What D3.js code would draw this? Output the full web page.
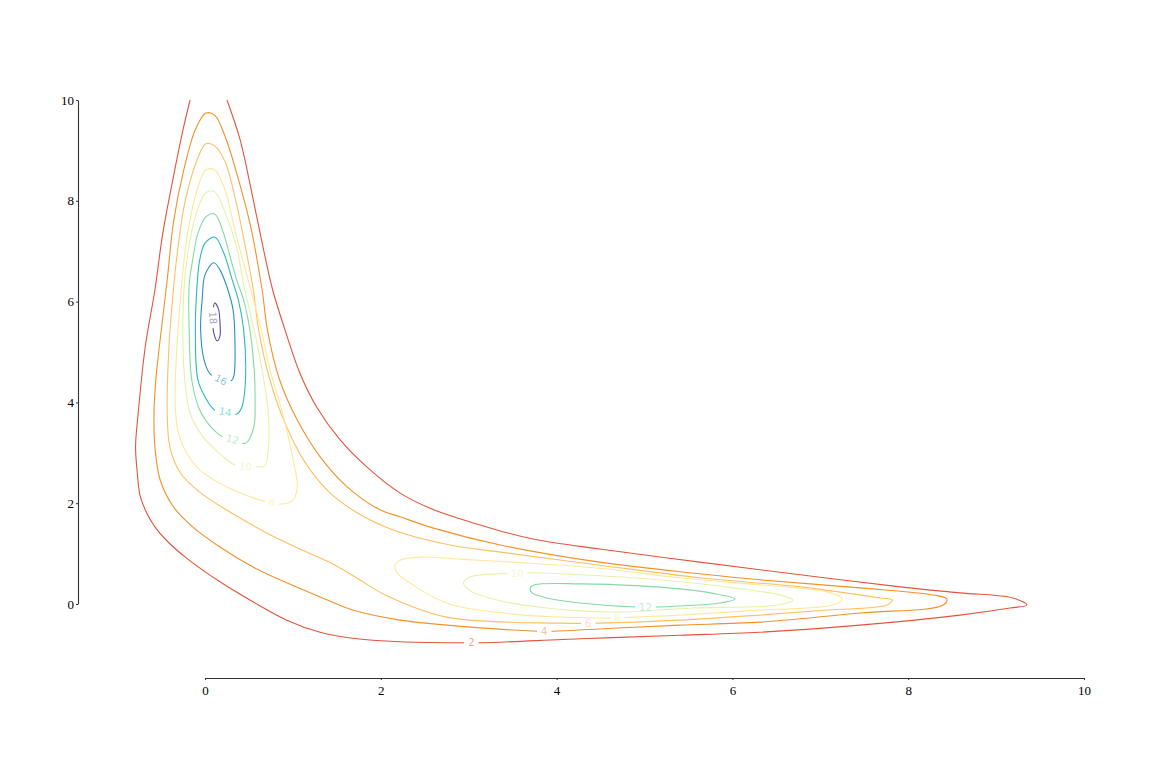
<!DOCTYPE html>
<html>
<head>
<meta charset="utf-8">
<script src="https://cdn.jsdelivr.net/npm/d3@7.9.0/dist/d3.min.js"></script>
<style>
  body { margin: 0; background: #fff; }
  svg { display: block; }
</style>
</head>
<body>
<svg id="chart" width="1163" height="776"></svg>
<script>
// contour levels and their colours
var levels = [2, 4, 6, 8, 10, 12, 14, 16, 18]
var levelColors = ['#e2553a', '#f39129', '#fdc062', '#fde99c', '#e3f4a9', '#83dba2', '#27bdb6', '#2b8fc2', '#5b4ea1']
var xTicks = [0, 2, 4, 6, 8, 10]
var yTicks = [0, 2, 4, 6, 8, 10]

// contour lines, [x, y] in data units
var contour2 = [[-0.17,10.0],[-0.25,9.41],[-0.36,8.47],[-0.48,7.36],[-0.57,6.23],[-0.68,5.10],[-0.76,3.79],[-0.79,3.12],[-0.77,2.60],[-0.74,2.16],[-0.67,1.83],[-0.57,1.53],[-0.42,1.23],[-0.21,0.91],[0.17,0.44],[0.55,0.04],[0.93,-0.32],[1.31,-0.56],[1.68,-0.68],[2.22,-0.75],[2.94,-0.77],[3.13,-0.77],[4.27,-0.69],[5.40,-0.62],[6.31,-0.56],[7.45,-0.42],[8.59,-0.22],[9.16,-0.08],[9.35,-0.02],[9.19,0.12],[8.59,0.22],[7.91,0.34],[6.77,0.58],[5.63,0.83],[4.49,1.09],[3.73,1.29],[3.36,1.45],[2.90,1.69],[2.56,1.90],[2.22,2.20],[1.84,2.72],[1.54,3.25],[1.27,3.91],[1.08,4.58],[0.91,5.44],[0.77,6.23],[0.66,7.08],[0.51,8.35],[0.40,9.21],[0.25,10.0]]
var contour4 = [[0.11,9.70],[0.01,9.74],[-0.11,9.41],[-0.25,8.55],[-0.36,7.56],[-0.43,6.43],[-0.52,5.10],[-0.56,4.44],[-0.58,3.79],[-0.57,3.12],[-0.51,2.46],[-0.36,1.93],[-0.14,1.53],[0.17,1.13],[0.55,0.73],[0.93,0.42],[1.31,0.14],[1.68,-0.12],[2.22,-0.32],[2.75,-0.42],[3.78,-0.54],[3.96,-0.54],[4.64,-0.48],[5.40,-0.42],[6.31,-0.36],[7.45,-0.18],[8.40,-0.02],[8.44,0.10],[8.28,0.18],[7.45,0.32],[6.31,0.48],[5.63,0.60],[4.49,0.83],[3.36,1.17],[2.59,1.51],[2.22,1.73],[1.99,1.87],[1.62,2.32],[1.31,2.92],[1.05,3.65],[0.85,4.44],[0.71,5.44],[0.65,6.23],[0.51,7.56],[0.36,8.55],[0.23,9.27]]
var contour6 = [[0.11,9.09],[0.01,9.13],[-0.09,8.81],[-0.23,7.96],[-0.32,6.89],[-0.36,6.23],[-0.41,5.10],[-0.43,3.79],[-0.40,3.12],[-0.28,2.60],[-0.06,2.22],[0.28,1.83],[0.68,1.43],[1.08,1.09],[1.46,0.79],[1.76,0.48],[2.05,0.18],[2.75,-0.26],[4.04,-0.38],[4.49,-0.38],[5.40,-0.32],[6.31,-0.22],[7.08,-0.12],[7.76,-0.02],[7.82,0.08],[7.68,0.12],[6.77,0.34],[5.63,0.52],[4.49,0.77],[3.36,1.03],[2.79,1.17],[2.14,1.47],[1.73,1.81],[1.39,2.26],[1.12,2.86],[0.91,3.59],[0.74,4.44],[0.61,5.44],[0.55,6.23],[0.46,7.08],[0.34,8.08],[0.23,8.77]]
var contour8a = [[0.11,8.61],[0.01,8.61],[-0.09,8.21],[-0.21,7.22],[-0.27,6.23],[-0.32,5.10],[-0.34,4.05],[-0.31,3.45],[-0.23,3.06],[-0.06,2.66],[0.25,2.32],[0.63,2.06],[0.85,1.98],[1.00,2.06],[1.05,2.32],[1.01,2.80],[0.93,3.45],[0.84,4.05],[0.74,4.64],[0.64,5.44],[0.49,6.43],[0.34,7.42],[0.23,8.21]]
var contour8b = [[2.16,0.77],[2.22,0.87],[2.45,0.93],[2.90,0.89],[3.50,0.83],[4.49,0.71],[5.40,0.52],[6.31,0.38],[7.08,0.24],[7.25,0.10],[7.14,-0.02],[6.31,-0.12],[5.40,-0.22],[4.87,-0.26],[4.64,-0.28],[3.50,-0.20],[2.75,0.02],[2.33,0.42],[2.18,0.63]]
var contour10a = [[0.11,8.18],[0.01,8.16],[-0.11,7.68],[-0.19,7.02],[-0.24,6.23],[-0.25,5.10],[-0.23,4.44],[-0.17,3.79],[-0.02,3.31],[0.21,2.92],[0.36,2.74],[0.59,2.72],[0.68,2.74],[0.72,3.06],[0.72,3.79],[0.67,4.44],[0.60,5.10],[0.56,5.44],[0.44,6.33],[0.36,7.08],[0.23,7.76]]
var contour10b = [[2.94,0.42],[3.02,0.54],[3.36,0.60],[3.73,0.62],[4.27,0.58],[4.87,0.52],[5.40,0.44],[6.01,0.32],[6.54,0.18],[6.69,0.08],[6.51,-0.02],[5.55,-0.08],[5.18,-0.12],[4.64,-0.16],[3.89,-0.08],[3.32,0.08],[3.02,0.26]]
var contour12a = [[0.11,7.74],[0.01,7.68],[-0.08,7.36],[-0.14,6.83],[-0.18,6.33],[-0.18,5.44],[-0.15,4.44],[-0.06,3.85],[0.08,3.49],[0.19,3.33],[0.46,3.19],[0.51,3.29],[0.56,3.55],[0.57,4.05],[0.56,4.64],[0.51,5.44],[0.44,6.03],[0.36,6.43],[0.28,6.93],[0.21,7.36]]
var contour12b = [[3.70,0.32],[3.75,0.38],[4.27,0.40],[4.95,0.36],[5.40,0.30],[5.75,0.22],[6.03,0.10],[5.86,0.02],[5.40,-0.04],[5.14,-0.06],[4.92,-0.06],[4.27,0.02],[3.89,0.12],[3.72,0.22]]
var contour14 = [[0.11,7.28],[0.00,7.16],[-0.06,6.83],[-0.09,6.33],[-0.11,5.44],[-0.08,4.44],[0.00,4.11],[0.11,3.85],[0.36,3.77],[0.42,3.91],[0.46,4.44],[0.44,5.44],[0.38,6.03],[0.31,6.43],[0.21,6.98]]
var contour16 = [[0.10,6.77],[0.00,6.53],[-0.03,6.09],[-0.05,5.44],[-0.01,4.84],[0.06,4.56],[0.19,4.44],[0.30,4.43],[0.33,4.54],[0.34,5.24],[0.32,5.83],[0.25,6.29],[0.17,6.63]]
var contour18 = [[0.11,5.97],[0.09,5.73],[0.10,5.38],[0.14,5.22],[0.17,5.32],[0.17,5.60],[0.15,5.87]]

// inline labels: [level, x, y]
var labelSpots = [[2,3.03,-0.77],[4,3.86,-0.54],[6,4.36,-0.38],[8,0.76,2.00],[8,4.69,-0.27],[10,0.46,2.72],[10,3.55,0.60],[12,0.31,3.25],[12,5.01,-0.06],[14,0.23,3.81],[16,0.18,4.44],[18,0.11,5.68]]

var pieces = [
    { level: 2, closed: false, pts: contour2 },
    { level: 4, closed: true, pts: contour4 },
    { level: 6, closed: true, pts: contour6 },
    { level: 8, closed: true, pts: contour8a },
    { level: 8, closed: true, pts: contour8b },
    { level: 10, closed: true, pts: contour10a },
    { level: 10, closed: true, pts: contour10b },
    { level: 12, closed: true, pts: contour12a },
    { level: 12, closed: true, pts: contour12b },
    { level: 14, closed: true, pts: contour14 },
    { level: 16, closed: true, pts: contour16 },
    { level: 18, closed: true, pts: contour18 },
]

var svg = d3.select('#chart')
var x = d3.scaleLinear().domain([0, 10]).range([205, 1084])
var y = d3.scaleLinear().domain([0, 10]).range([604, 100])
var color = d3.scaleOrdinal().domain(levels).range(levelColors)

var lineOpen = d3.line().x(function (d) { return x(d[0]) }).y(function (d) { return y(d[1]) }).curve(d3.curveCatmullRom.alpha(0.5))
var lineClosed = d3.line().x(function (d) { return x(d[0]) }).y(function (d) { return y(d[1]) }).curve(d3.curveCatmullRomClosed.alpha(0.5))

svg.append('g')
    .selectAll('path')
    .data(pieces)
    .enter()
    .append('path')
    .attr('d', function (d) { return (d.closed ? lineClosed : lineOpen)(d.pts) })
    .attr('fill', 'none')
    .attr('stroke', function (d) { return color(d.level) })
    .attr('stroke-width', 1.1)

// labels: snap to nearest segment of that level, rotate along it
function nearest(level, px, py) {
    var best = null
    pieces.forEach(function (p) {
        if (p.level !== level) return
        var pts = p.pts.map(function (d) { return [x(d[0]), y(d[1])] })
        var n = p.closed ? pts.length : pts.length - 1
        for (var i = 0; i < n; i++) {
            var a = pts[i], b = pts[(i + 1) % pts.length]
            var dx = b[0] - a[0], dy = b[1] - a[1]
            var t = ((px - a[0]) * dx + (py - a[1]) * dy) / (dx * dx + dy * dy)
            t = Math.max(0, Math.min(1, t))
            var qx = a[0] + t * dx, qy = a[1] + t * dy
            var dist = (qx - px) * (qx - px) + (qy - py) * (qy - py)
            if (!best || dist < best.dist) best = { dist: dist, x: qx, y: qy, ang: Math.atan2(dy, dx) * 180 / Math.PI }
        }
    })
    var ang = best.ang
    if (ang > 90) ang -= 180
    if (ang <= -90) ang += 180
    best.ang = ang
    return best
}

var lab = svg.append('g')
labelSpots.forEach(function (s) {
    var p = nearest(s[0], x(s[1]), y(s[2]))
    var g = lab.append('g').attr('transform', 'translate(' + p.x + ',' + p.y + ') rotate(' + p.ang + ')')
    var bg = g.append('rect').attr('fill', '#fff')
    var t = g.append('text')
        .attr('text-anchor', 'middle')
        .attr('dy', '0.36em')
        .attr('font-family', 'DejaVu Sans, sans-serif')
        .attr('font-size', '10px')
        .attr('fill', color(s[0]))
        .attr('fill-opacity', 0.55)
        .text(s[0])
    var w = t.node().getComputedTextLength() + 8
    bg.attr('x', -w / 2).attr('y', -3.5).attr('width', w).attr('height', 7)
})

// axes, offset from the data like a despined plot
var yAxis = svg.append('g')
    .attr('transform', 'translate(78,0)')
    .call(d3.axisLeft(y).tickValues(yTicks).tickSizeInner(2).tickSizeOuter(0).tickPadding(2))
var xAxis = svg.append('g')
    .attr('transform', 'translate(0,678)')
    .call(d3.axisBottom(x).tickValues(xTicks).tickSizeInner(2).tickSizeOuter(0).tickPadding(6))

;[yAxis, xAxis].forEach(function (ax) {
    ax.select('.domain').attr('stroke', '#333').attr('stroke-width', 1.1)
    ax.selectAll('.tick line').attr('stroke', '#333')
    ax.selectAll('.tick text')
        .attr('font-family', 'Liberation Serif, Times New Roman, serif')
        .attr('font-size', '13px')
        .attr('fill', '#000')
})
</script>
</body>
</html>
